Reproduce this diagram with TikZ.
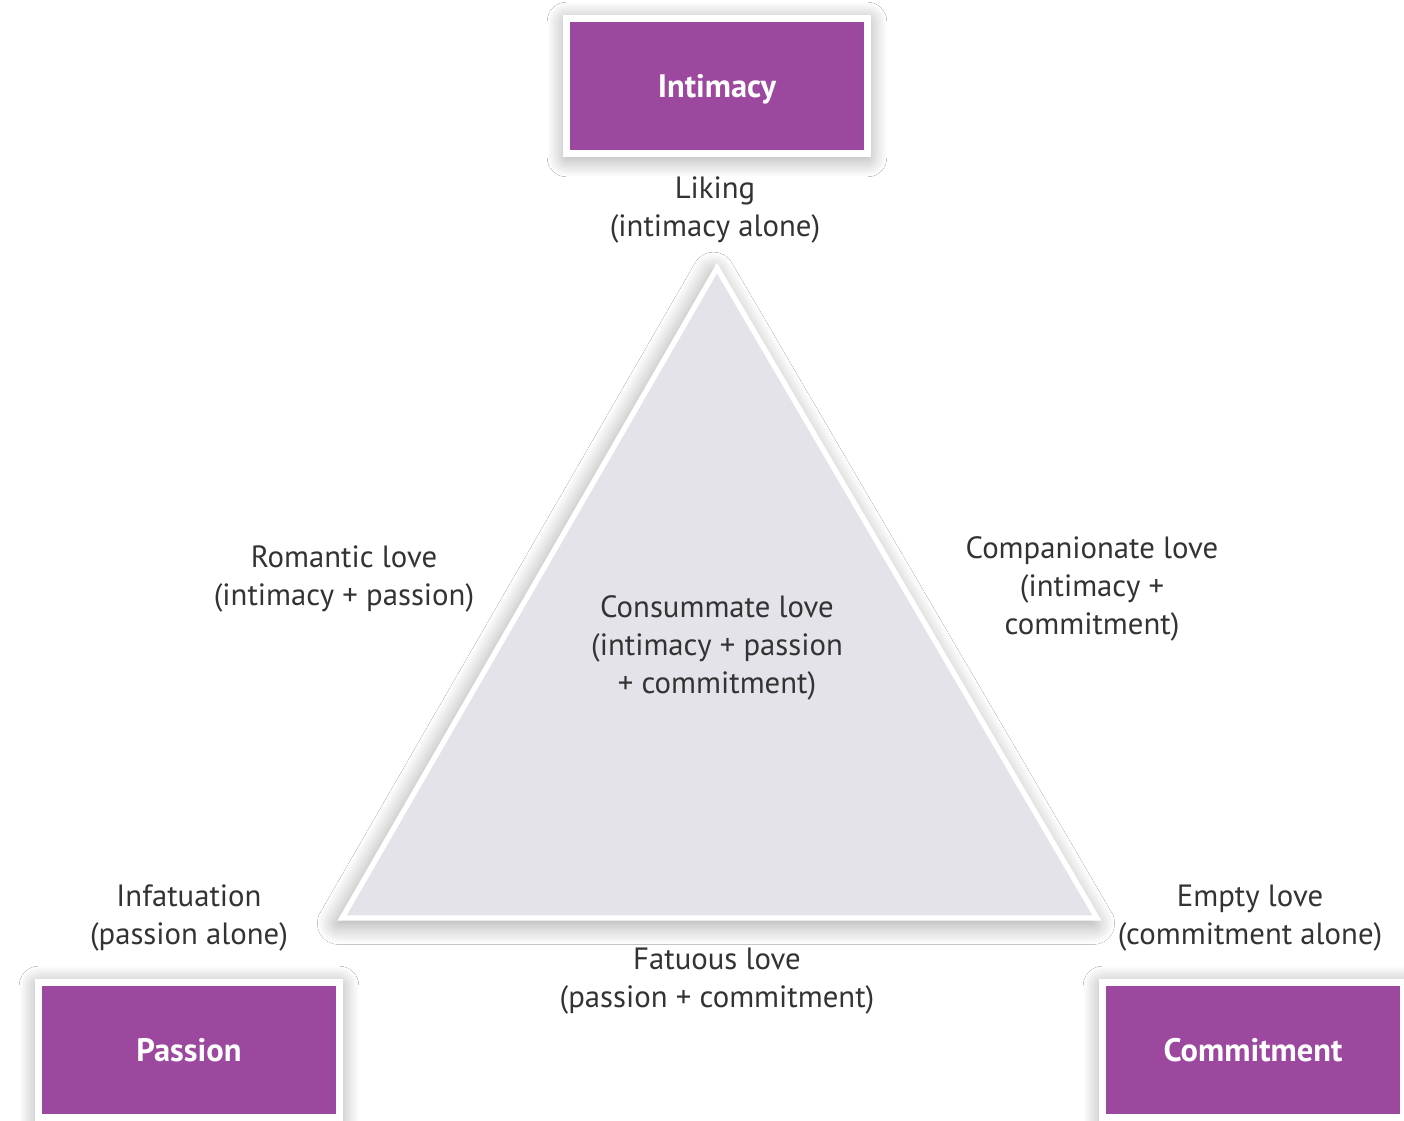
\documentclass[tikz,border=0pt]{standalone}
\usepackage{fontspec}
\setmainfont{PT Sans}
\usetikzlibrary{positioning}
\usetikzlibrary{shadows.blur}
\definecolor{lovepurple}{RGB}{155,72,158}
\definecolor{trifill}{RGB}{228,227,234}
\definecolor{lovegray}{RGB}{51,51,51}
\tikzstyle{compbox} = [draw=white, line width=0.14cm, fill=lovepurple, minimum width=6.02cm, minimum height=2.72cm, text=white, font=\fontsize{18.5}{20}\selectfont\bfseries, blur shadow={shadow xshift=0pt, shadow yshift=-2pt, shadow blur radius=11pt, shadow blur steps=20, shadow opacity=40}]
\tikzstyle{lovetext} = [text=lovegray, align=center, font=\fontsize{17.5}{21.6}\selectfont]
\begin{document}
\begin{tikzpicture}[x=0.02cm, y=-0.02cm]
  \useasboundingbox[fill=white] (0,0) rectangle (1404,1121);
  \coordinate (top) at (717,268);
  \coordinate (bl) at (342,918);
  \coordinate (br) at (1097,918);
  \fill[trifill, draw=white, line width=3pt, line join=miter,
    blur shadow={shadow xshift=-2pt, shadow yshift=-3pt, shadow blur radius=12pt, shadow blur steps=20, shadow opacity=40}]
    (top) -- (br) -- (bl) -- cycle;

  \node[compbox, text depth=-0.3cm] (intimacy) at (717,86) {Intimacy};
  \node[compbox, text depth=-0.3cm] (passion) at (189,1050) {Passion};
  \node[compbox, text depth=-0.3cm] (commitment) at (1253,1050) {Commitment};

  \node[lovetext] (liking) at (715,210) {Liking\\(intimacy alone)};
  \node[lovetext] (romantic) at (344,579) {Romantic love\\(intimacy + passion)};
  \node[lovetext] (consummate) at (717,648) {Consummate love\\(intimacy + passion\\+ commitment)};
  \node[lovetext] (companionate) at (1092,589) {Companionate love\\(intimacy +\\commitment)};
  \node[lovetext] (infatuation) at (189,918) {Infatuation\\(passion alone)};
  \node[lovetext] (empty) at (1250,918) {Empty love\\(commitment alone)};
  \node[lovetext] (fatuous) at (717,981) {Fatuous love\\(passion + commitment)};
\end{tikzpicture}
\end{document}
